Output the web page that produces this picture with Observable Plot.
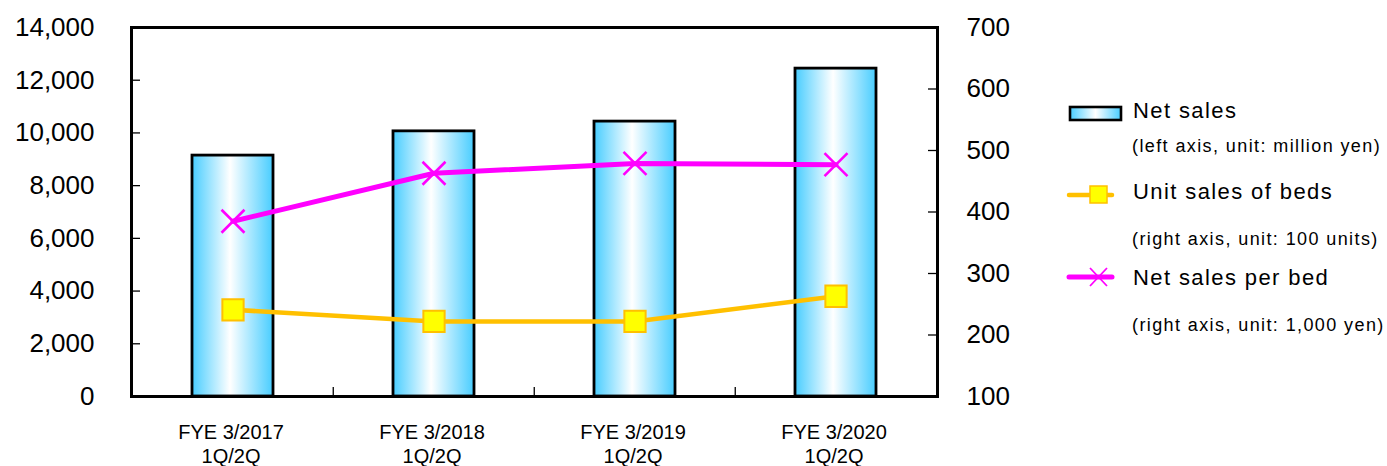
<!DOCTYPE html>
<html>
<head>
<meta charset="utf-8">
<script src="https://cdn.jsdelivr.net/npm/d3@7"></script>
<script src="https://cdn.jsdelivr.net/npm/@observablehq/plot@0.6"></script>
<style>
  html, body { margin: 0; padding: 0; background: #fff; }
  #wrap { position: relative; width: 1387px; height: 466px; font-family: "Liberation Sans", Arial, sans-serif; }
  #legend { position: absolute; left: 0; top: 0; width: 1387px; height: 466px; pointer-events: none; }
  .lg { position: absolute; color: #000; white-space: nowrap; }
  .big { font-size: 22px; letter-spacing: 1.4px; }
  .small { font-size: 18px; letter-spacing: 1.4px; }
</style>
</head>
<body>
<div id="wrap"></div>
<script>
// ---- data ----
const categories = ["FYE 3/2017\n1Q/2Q", "FYE 3/2018\n1Q/2Q", "FYE 3/2019\n1Q/2Q", "FYE 3/2020\n1Q/2Q"];
const netSales = [9140, 10060, 10430, 12440];          // left axis, million yen
const unitSalesBeds = [241, 222, 222, 263];            // right axis, 100 units
const netSalesPerBed = [385, 463, 479, 477];           // right axis, 1,000 yen
const leftTicks = [0, 2000, 4000, 6000, 8000, 10000, 12000, 14000];
const rightTicks = [100, 200, 300, 400, 500, 600, 700];

// right axis [100,700] mapped onto left domain [0,14000]
const rMin = 100, rMax = 700, lMax = 14000;
const toLeft = v => (v - rMin) / (rMax - rMin) * lMax;
const toRight = v => rMin + v / lMax * (rMax - rMin);

const barData = categories.map((c, i) => ({c, v: netSales[i]}));
const bedsData = categories.map((c, i) => ({c, v: toLeft(unitSalesBeds[i])}));
const perBedData = categories.map((c, i) => ({c, v: toLeft(netSalesPerBed[i])}));

const W = 1387, H = 466, mL = 131, mR = 450, mT = 27, mB = 70;
const innerW = W - mL - mR;
const bandHalf = innerW / categories.length / 2;

const chart = Plot.plot({
  width: W, height: H,
  marginLeft: mL, marginRight: mR, marginTop: mT, marginBottom: mB,
  style: {fontFamily: '"Liberation Sans", Arial, sans-serif', background: "#fff", overflow: "visible"},
  x: {type: "band", domain: categories, padding: 0},
  y: {domain: [0, lMax]},
  marks: [
    Plot.barY(barData, {x: "c", y: "v", fill: "url(#barGrad)", stroke: "#000", strokeWidth: 2.8, insetLeft: 60, insetRight: 60}),
    // inner ticks, left axis
    Plot.tickY(leftTicks, {y: d => d, stroke: "#000", strokeWidth: 1.3, insetRight: innerW - 9}),
    // inner ticks, right axis
    Plot.tickY(rightTicks.map(toLeft), {y: d => d, stroke: "#000", strokeWidth: 1.3, insetLeft: innerW - 9}),
    // category separators on bottom
    Plot.tickX(categories.slice(1), {x: d => d, dx: -bandHalf, stroke: "#000", strokeWidth: 1.3, insetTop: (H - mT - mB) - 9}),
    Plot.frame({stroke: "#000", strokeWidth: 3}),
    Plot.line(bedsData, {x: "c", y: "v", stroke: "#ffc000", strokeWidth: 4.5}),
    Plot.dot(bedsData, {x: "c", y: "v", symbol: "square", r: 12, fill: "#ffff00", stroke: "#ffc000", strokeWidth: 2}),
    Plot.line(perBedData, {x: "c", y: "v", stroke: "#ff00ff", strokeWidth: 5}),
    Plot.dot(perBedData, {x: "c", y: "v", symbol: "times", r: 10.5, stroke: "#ff00ff", strokeWidth: 2.6}),
    Plot.axisY({ticks: leftTicks, tickSize: 0, tickPadding: 37, tickFormat: d => d3.format(",")(d), fontSize: 26, label: null}),
    Plot.axisY({anchor: "right", ticks: rightTicks.map(toLeft), tickSize: 0, tickPadding: 29, tickFormat: d => String(Math.round(toRight(d))), fontSize: 26, label: null}),
    Plot.axisX({tickSize: 0, tickPadding: 25, dx: -2, fontSize: 20, lineHeight: 1.2, label: null})
  ]
});

// gradient definition for bars
const svg = d3.select(chart);
const defs = svg.insert("defs", ":first-child");
const g = defs.append("linearGradient").attr("id", "barGrad").attr("x1", "0%").attr("x2", "100%").attr("y1", "0%").attr("y2", "0%");
g.append("stop").attr("offset", "0%").attr("stop-color", "#48cdff");
g.append("stop").attr("offset", "47%").attr("stop-color", "#ffffff");
g.append("stop").attr("offset", "100%").attr("stop-color", "#48cdff");
svg.selectAll("text").attr("fill", "#000");

const wrap = document.getElementById("wrap");
wrap.appendChild(chart);

// legend (right side)
const legend = document.createElement("div");
legend.id = "legend";
legend.innerHTML = `
  <svg style="position:absolute;left:0;top:0" width="1387" height="466">
    <defs>
      <linearGradient id="lgGrad" x1="0%" x2="100%" y1="0%" y2="0%">
        <stop offset="0%" stop-color="#48cdff"/>
        <stop offset="50%" stop-color="#ffffff"/>
        <stop offset="100%" stop-color="#48cdff"/>
      </linearGradient>
    </defs>
    <rect x="1070" y="107" width="51" height="13" fill="url(#lgGrad)" stroke="#000" stroke-width="2.6"/>
    <line x1="1069" y1="195" x2="1112" y2="195" stroke="#ffc000" stroke-width="4.5" stroke-linecap="round"/>
    <rect x="1090" y="186" width="17" height="17" fill="#ffff00" stroke="#ffc000" stroke-width="1.5"/>
    <line x1="1069" y1="277" x2="1112" y2="277" stroke="#ff00ff" stroke-width="5" stroke-linecap="round"/>
    <path d="M1090,268L1107,286M1090,286L1107,268" stroke="#ff00ff" stroke-width="1.8"/>
  </svg>
  <div class="lg big" style="left:1133px;top:98px">Net sales</div>
  <div class="lg small" style="left:1132px;top:136px">(left axis, unit: million yen)</div>
  <div class="lg big" style="left:1133px;top:179px">Unit sales of beds</div>
  <div class="lg small" style="left:1132px;top:229px">(right axis, unit: 100 units)</div>
  <div class="lg big" style="left:1133px;top:265px">Net sales per bed</div>
  <div class="lg small" style="left:1132px;top:315px">(right axis, unit: 1,000 yen)</div>
`;
wrap.appendChild(legend);
</script>
</body>
</html>
